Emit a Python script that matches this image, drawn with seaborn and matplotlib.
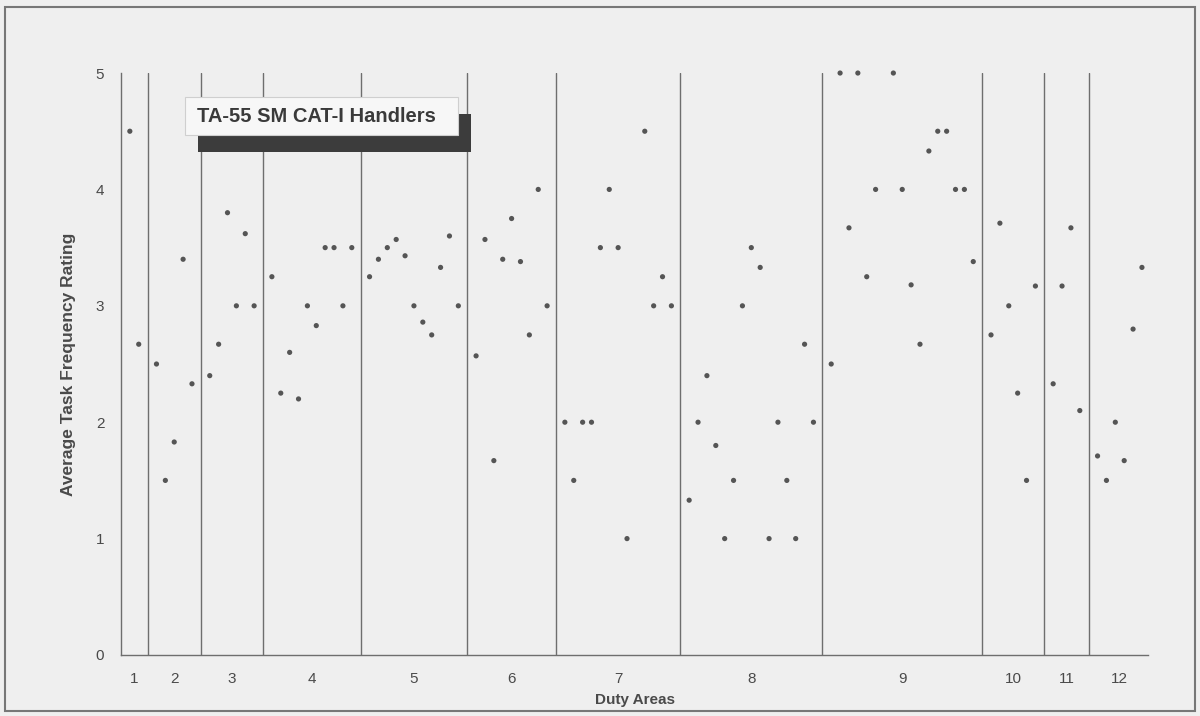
import numpy as np
import pandas as pd
import matplotlib
matplotlib.use("Agg")
import matplotlib.pyplot as plt
import seaborn as sns
from matplotlib.patches import Rectangle

# ---- data: average task frequency rating per task, grouped by duty area ----
duty_areas = ["1", "2", "3", "4", "5", "6", "7", "8", "9", "10", "11", "12"]
d1 = [4.5, 2.67]
d2 = [2.5, 1.5, 1.83, 3.4, 2.33]
d3 = [2.4, 2.67, 3.8, 3.0, 3.62, 3.0]
d4 = [3.25, 2.25, 2.6, 2.2, 3.0, 2.83, 3.5, 3.5, 3.0, 3.5]
d5 = [3.25, 3.4, 3.5, 3.57, 3.43, 3.0, 2.86, 2.75, 3.33, 3.6, 3.0]
d6 = [2.57, 3.57, 1.67, 3.4, 3.75, 3.38, 2.75, 4.0, 3.0]
d7 = [2.0, 1.5, 2.0, 2.0, 3.5, 4.0, 3.5, 1.0, np.nan, 4.5, 3.0, 3.25, 3.0]
d8 = [1.33, 2.0, 2.4, 1.8, 1.0, 1.5, 3.0, 3.5, 3.33, 1.0, 2.0, 1.5, 1.0, 2.67, 2.0]
d9 = [2.5, 5.0, 3.67, 5.0, 3.25, 4.0, np.nan, 5.0, 4.0, 3.18, 2.67, 4.33,
      4.5, 4.5, 4.0, 4.0, 3.38]
d10 = [2.75, 3.71, 3.0, 2.25, 1.5, 3.17]
d11 = [2.33, 3.17, 3.67, 2.1]
d12 = [1.71, 1.5, 2.0, 1.67, 2.8, 3.33]
groups = [d1, d2, d3, d4, d5, d6, d7, d8, d9, d10, d11, d12]
y_ticks = [0, 1, 2, 3, 4, 5]
legend_label = "TA-55 SM CAT-I Handlers"

# ---- build slot positions: one slot per task, one blank slot per divider ----
rows, dividers, centers = [], [], []
pos = 0
for gi, vals in enumerate(groups):
    start = pos
    for v in vals:
        rows.append((pos, v, duty_areas[gi]))
        pos += 1
    centers.append((start + pos - 1) / 2)
    if gi < len(groups) - 1:
        dividers.append(pos)
        pos += 1
df = pd.DataFrame(rows, columns=["slot", "rating", "duty"]).dropna()

sns.set_style("white")
plt.rcParams["font.family"] = ["Liberation Sans", "DejaVu Sans"]
bg = "#efefef"
ink = "#4a4a4a"

fig = plt.figure(figsize=(12, 7.16), dpi=100, facecolor=bg)
ax = fig.add_axes([0.1008, 0.0852, 0.856, 0.8128])
ax.set_facecolor(bg)

for d in dividers:
    ax.axvline(d, ymin=0, ymax=1, color="#6e6e6e", lw=1.0, zorder=1)

sns.scatterplot(data=df, x="slot", y="rating", ax=ax, color="#555555",
                s=14, edgecolor="none", legend=False, zorder=3, clip_on=False)

ax.set_xlim(-1, 114.7)
ax.set_ylim(0, 5)
ax.set_yticks(y_ticks)
ax.set_yticklabels([str(t) for t in y_ticks], fontsize=11, color=ink)
ax.set_xticks(dividers)
ax.set_xticklabels([])
ax.set_xticks(centers, minor=True)
ax.set_xticklabels(duty_areas, minor=True, fontsize=11, color=ink)
ax.tick_params(axis="x", which="major", direction="inout", length=6,
               color="#6e6e6e", width=1)
ax.tick_params(axis="x", which="minor", length=0, pad=12)
ax.tick_params(axis="y", direction="out", length=6, color="#6e6e6e",
               width=1, pad=6)

for side in ["top", "right"]:
    ax.spines[side].set_visible(False)
for side in ["left", "bottom"]:
    ax.spines[side].set_color("#6e6e6e")
    ax.spines[side].set_linewidth(1.0)

ax.set_xlabel("Duty Areas", fontsize=11, fontweight="bold", color=ink,
              labelpad=5)
ax.set_ylabel("Average Task Frequency Rating", fontsize=12.5,
              fontweight="bold", color=ink, labelpad=14)

# ---- titled box with drop shadow (legend-like label) ----
bx0, by0, bw, bh = 185 / 1200, 1 - 135 / 716, 273 / 1200, 38 / 716
shadow = Rectangle((bx0 + 13 / 1200, by0 - 17 / 716), bw, bh,
                   transform=fig.transFigure, facecolor="#3c3c3c",
                   edgecolor="none", zorder=5)
box = Rectangle((bx0, by0), bw, bh, transform=fig.transFigure,
                facecolor="#f7f7f7", edgecolor="#cfcfcf", lw=0.8, zorder=6)
fig.add_artist(shadow)
fig.add_artist(box)
fig.text(bx0 + 12 / 1200, by0 + bh / 2, legend_label, fontsize=14.5,
         fontweight="bold", color="#3a3a3a", va="center", ha="left",
         zorder=7)

# ---- scanned page frame ----
frame = Rectangle((5 / 1200, 5 / 716), 1190 / 1200, 704 / 716,
                  transform=fig.transFigure, fill=False,
                  edgecolor="#777777", lw=1.5)
fig.add_artist(frame)

fig.savefig("out.png", dpi=100, facecolor=bg)
